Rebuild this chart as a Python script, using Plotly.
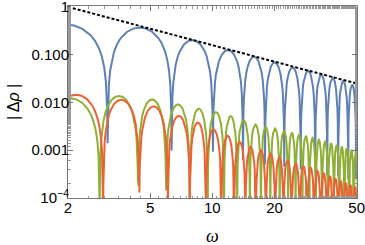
import math
import plotly.graph_objects as go

# ---------------- data ----------------
omega_ticks = [2, 5, 10, 20, 50]
omega_tick_text = ["2", "5", "10", "20", "50"]
rho_ticks = [1, 0.1, 0.01, 0.001, 1e-4]
rho_tick_text = ["1", "0.100", "0.010", "0.001", "10<sup>\u22124</sup>"]

# dotted envelope
envelope_omega = [2, 50]
envelope_rho = [1.0, 0.025]

# blue curve: cusp positions, lobe peak heights, cusp depths
blue_zeros = [1.22, 3.11, 6.35, 10.07, 14.08, 18.0, 22.3, 26.8, 31.5, 36.0, 40.7, 45.5, 49.7, 54.5]
blue_peaks = [0.43, 0.37, 0.202, 0.125, 0.091, 0.069, 0.054, 0.046, 0.038, 0.033, 0.0278, 0.0237, 0.021]
blue_dips = [0.002, 0.0014, 0.00098, 0.00093, 0.00062, 0.0005, 0.00045, 0.0004, 0.00035,
             0.0003, 0.00028, 0.00025, 0.00025, 0.00025]

# green curve
green_zeros = [1.48, 2.85, 4.37, 5.97, 7.78, 9.5, 11.4, 13.2, 15.2, 17.2, 19.1, 21.2, 23.3,
               25.3, 27.3, 29.5, 31.7, 34.0, 36.4, 38.8, 41.2, 43.6, 46.0, 48.4, 50.8]
green_peaks = [0.0122, 0.01366, 0.01155, 0.00908, 0.0074, 0.00628, 0.00519, 0.00422, 0.00343,
               0.00306, 0.00283, 0.00252, 0.00234, 0.00212, 0.00199, 0.0018, 0.00165, 0.0015,
               0.00139, 0.00128, 0.00118, 0.0011, 0.00103, 0.00096]
green_dips = [5e-5, 5e-5, 2.3e-4, 1.75e-4] + [5e-5] * 21

# orange curve
orange_zeros = [1.62, 2.96, 4.43, 6.09, 7.78, 9.3, 11.05, 12.75, 14.45, 16.25, 18.15, 20.15,
                22.1, 24.2, 26.5, 28.8, 31.15, 33.5, 35.9, 38.3, 40.7, 43.1, 45.5, 47.9, 50.3]
orange_peaks = [0.0145, 0.0114, 0.0083, 0.00524, 0.0038, 0.0027, 0.00199, 0.00149, 0.00117,
                0.001, 0.00085, 0.00072, 0.00062, 0.00053, 0.00047, 0.00043, 0.00037, 0.000325,
                0.000287, 0.000255, 0.000228, 0.000206, 0.000187, 0.000172]
orange_dips = [5e-5, 5e-5, 1.95e-4, 1.2e-4] + [5e-5] * 21

# shape of one arch between two cusps (position within arch, height relative to peak)
lobe_frac = [0.005, 0.01, 0.02, 0.04, 0.07, 0.1, 0.15, 0.2, 0.3, 0.4, 0.5,
             0.6, 0.7, 0.8, 0.85, 0.9, 0.93, 0.96, 0.98, 0.99, 0.995]
lobe_shape = [0.0157, 0.0314, 0.0628, 0.1253, 0.2181, 0.3090, 0.4540, 0.5878, 0.8090, 0.9511, 1.0,
              0.9511, 0.8090, 0.5878, 0.4540, 0.3090, 0.2181, 0.1253, 0.0628, 0.0314, 0.0157]


def arches(zeros, peaks, dips):
    xs, ys = [], []
    for i, p in enumerate(peaks):
        a, b = math.log10(zeros[i]), math.log10(zeros[i + 1])
        xs.append(zeros[i])
        ys.append(dips[i])
        for f, s in zip(lobe_frac, lobe_shape):
            xs.append(10 ** (a + f * (b - a)))
            ys.append(p * s)
    xs.append(zeros[-1])
    ys.append(dips[-1])
    return xs, ys


BLUE = "#5E81B5"
GREEN = "#8FB032"
ORANGE = "#EB6235"
FRAME = "#777777"

fig = go.Figure()
for zs, ps, ds, col in [(blue_zeros, blue_peaks, blue_dips, BLUE),
                        (green_zeros, green_peaks, green_dips, GREEN),
                        (orange_zeros, orange_peaks, orange_dips, ORANGE)]:
    x, y = arches(zs, ps, ds)
    fig.add_trace(go.Scatter(x=x, y=y, mode="lines", line=dict(color=col, width=2),
                             hoverinfo="skip"))

fig.add_trace(go.Scatter(x=envelope_omega, y=envelope_rho, mode="lines",
                         line=dict(color="black", width=2, dash="3px,2px"), hoverinfo="skip"))

axis_common = dict(
    type="log", showgrid=False, zeroline=False, automargin=False,
    showline=True, linecolor=FRAME, linewidth=1, mirror="allticks",
    ticks="inside", ticklen=5, tickcolor=FRAME, tickwidth=1,
    ticklabeloverflow="allow",
    tickfont=dict(family="Liberation Sans, Arial, sans-serif", size=15, color="black"),
    minor=dict(ticks="inside", ticklen=2.5, tickcolor="#999999", tickwidth=1, showgrid=False),
)

fig.update_xaxes(range=[math.log10(2), math.log10(50.2)], tickmode="array",
                 tickvals=omega_ticks, ticktext=omega_tick_text, ticklabelstandoff=-4,
                 **axis_common)
fig.update_yaxes(range=[-4.002, 0.02], tickmode="array",
                 tickvals=rho_ticks, ticktext=rho_tick_text, ticklabelstandoff=-5,
                 **axis_common)

fig.update_layout(
    width=365, height=245,
    margin=dict(l=68, r=8, t=6, b=47, autoexpand=False),
    plot_bgcolor="white", paper_bgcolor="white",
    showlegend=False,
    font=dict(family="Liberation Sans, Arial, sans-serif", size=15, color="black"),
    annotations=[
        dict(text="<i>\u03c9</i>", xref="paper", yref="paper", x=0.5, y=0,
             xanchor="center", yanchor="middle", yshift=-38, showarrow=False,
             font=dict(size=18, family="Liberation Serif, DejaVu Serif, serif")),
        dict(text="| \u0394<i>\u03c1</i> |", xref="paper", yref="paper", x=0, y=0.5,
             xanchor="center", yanchor="middle", xshift=-55, textangle=-90, showarrow=False,
             font=dict(size=16, family="Liberation Sans, Arial, sans-serif")),
    ],
)

fig.write_html("out.html", config={"displayModeBar": False},
               post_script="document.body.style.margin='0px';document.body.style.overflow='hidden';")
